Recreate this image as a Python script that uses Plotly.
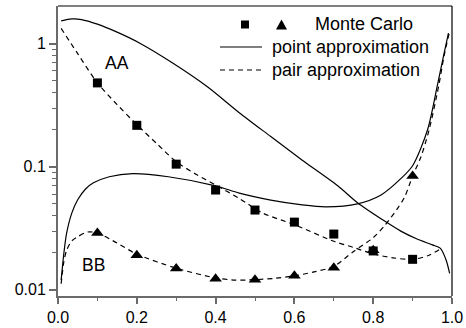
import plotly.graph_objects as go

# Monte Carlo points
mc_x = [0.1, 0.2, 0.3, 0.4, 0.5, 0.6, 0.7, 0.8, 0.9]
mc_aa = [0.48, 0.217, 0.105, 0.0647, 0.0445, 0.0355, 0.0284, 0.0207, 0.0177]
mc_bb = [0.029, 0.0191, 0.0149, 0.0123, 0.0121, 0.013, 0.0151, 0.021, 0.084]

# point approximation (solid)
pt_aa_x = [0.008, 0.035, 0.06, 0.1, 0.15, 0.21, 0.29, 0.38, 0.46, 0.54, 0.62, 0.71,
           0.76, 0.83, 0.87, 0.91, 0.95, 0.97, 0.985, 0.994]
pt_aa_y = [1.53, 1.59, 1.57, 1.44, 1.24, 1.0, 0.70, 0.445, 0.275, 0.176, 0.113, 0.070,
           0.051, 0.036, 0.030, 0.026, 0.0232, 0.0218, 0.0175, 0.0136]
pt_bb_x = [0.008, 0.015, 0.022, 0.035, 0.05, 0.07, 0.09, 0.13, 0.19, 0.28, 0.4, 0.46,
           0.54, 0.62, 0.68, 0.76, 0.82, 0.87, 0.9, 0.938, 0.963, 0.978, 0.991]
pt_bb_y = [0.012, 0.02, 0.029, 0.042, 0.054, 0.066, 0.074, 0.083, 0.088, 0.083, 0.07,
           0.061, 0.0536, 0.049, 0.0473, 0.050, 0.059, 0.08, 0.102, 0.2, 0.46, 0.78, 1.22]

# pair approximation (dashed)
pr_aa_x = [0.008, 0.05, 0.1, 0.15, 0.2, 0.25, 0.3, 0.35, 0.4, 0.46, 0.52, 0.6, 0.7,
           0.75, 0.8, 0.85, 0.9, 0.94, 0.97]
pr_aa_y = [1.33, 0.83, 0.48, 0.32, 0.22, 0.155, 0.11, 0.087, 0.071, 0.0553, 0.042,
           0.0338, 0.0248, 0.0221, 0.0196, 0.0182, 0.0177, 0.019, 0.0215]
pr_bb_x = [0.008, 0.015, 0.022, 0.035, 0.05, 0.075, 0.1, 0.15, 0.2, 0.3, 0.4, 0.45,
           0.5, 0.55, 0.6, 0.65, 0.7, 0.75, 0.8, 0.83, 0.86, 0.88, 0.9, 0.921, 0.942,
           0.966, 0.98, 0.993]
pr_bb_y = [0.0112, 0.017, 0.021, 0.025, 0.027, 0.0295, 0.029, 0.024, 0.0195, 0.015,
           0.0125, 0.012, 0.0121, 0.0124, 0.013, 0.014, 0.0155, 0.0205, 0.0265, 0.0336,
           0.045, 0.057, 0.084, 0.12, 0.2, 0.45, 0.8, 1.22]

x_ticks = [0.0, 0.2, 0.4, 0.6, 0.8, 1.0]
x_tick_text = ["0.0", "0.2", "0.4", "0.6", "0.8", "1.0"]
y_ticks = [0.01, 0.1, 1]
y_tick_text = ["0.01", "0.1", "1"]
y_minor = [m * d for d in (0.01, 0.1) for m in range(2, 10)]
x_minor = [0.1, 0.3, 0.5, 0.7, 0.9]

FONT = "Liberation Sans"
DASH = "5px,4px"
LEG_SIZE = 18

fig = go.Figure()
line_solid = dict(color="black", width=1.2, shape="spline", smoothing=0.8)
line_dash = dict(color="black", width=1.2, dash=DASH, shape="spline", smoothing=0.8)
for xs, ys in [(pt_aa_x, pt_aa_y), (pt_bb_x, pt_bb_y)]:
    fig.add_trace(go.Scatter(x=xs, y=ys, mode="lines", line=line_solid, showlegend=False))
for xs, ys in [(pr_aa_x, pr_aa_y), (pr_bb_x, pr_bb_y)]:
    fig.add_trace(go.Scatter(x=xs, y=ys, mode="lines", line=line_dash, showlegend=False))
fig.add_trace(go.Scatter(x=mc_x, y=mc_aa, mode="markers", showlegend=False,
                         marker=dict(symbol="square", size=9, color="black")))
fig.add_trace(go.Scatter(x=mc_x, y=mc_bb, mode="markers", showlegend=False,
                         marker=dict(symbol="triangle-up", size=11, color="black")))

W, H = 466, 328
L, R, T, B = 58, 14, 6, 32
PW, PH = W - L - R, H - T - B


def px(x):
    return (x - L) / PW


def py(y):
    return (H - B - y) / PH


shapes = [
    dict(type="line", xref="paper", yref="paper", x0=0, x1=1, y0=1, y1=1,
         line=dict(color="black", width=1.2)),
    dict(type="line", xref="paper", yref="paper", x0=1, x1=1, y0=0, y1=1,
         line=dict(color="black", width=1.2)),
    # legend symbols
    dict(type="rect", xref="paper", yref="paper", x0=px(241), x1=px(249),
         y0=py(28.5), y1=py(20.5), fillcolor="black", line=dict(width=0)),
    dict(type="path", xref="paper", yref="paper",
         path=f"M {px(276)} {py(29.5)} L {px(287)} {py(29.5)} L {px(281.5)} {py(19.5)} Z",
         fillcolor="black", line=dict(width=0)),
    dict(type="line", xref="paper", yref="paper", x0=px(220), x1=px(262),
         y0=py(47), y1=py(47), line=dict(color="black", width=1.2)),
    dict(type="line", xref="paper", yref="paper", x0=px(220), x1=px(262),
         y0=py(70), y1=py(70), line=dict(color="black", width=1.2, dash=DASH)),
]

annotations = [
    dict(text="Monte Carlo", xref="paper", yref="paper", x=px(313), y=py(24.5),
         xanchor="left", yanchor="middle", showarrow=False, font=dict(size=LEG_SIZE)),
    dict(text="point approximation", xref="paper", yref="paper", x=px(270), y=py(47),
         xanchor="left", yanchor="middle", showarrow=False, font=dict(size=LEG_SIZE)),
    dict(text="pair approximation", xref="paper", yref="paper", x=px(270), y=py(70),
         xanchor="left", yanchor="middle", showarrow=False, font=dict(size=LEG_SIZE)),
    dict(text="AA", x=0.149, y=-0.153, xref="x", yref="y", showarrow=False,
         font=dict(size=17.5)),
    dict(text="BB", x=0.09, y=-1.8, xref="x", yref="y", showarrow=False,
         font=dict(size=17.5)),
]

AXC = "#6a6a6a"
fig.update_layout(
    width=W, height=H,
    margin=dict(l=L, r=R, t=T, b=B, autoexpand=False),
    paper_bgcolor="white", plot_bgcolor="white",
    font=dict(family=FONT, color="black", size=16),
    shapes=shapes, annotations=annotations,
    xaxis=dict(range=[0, 1], tickvals=x_ticks, ticktext=x_tick_text, automargin=False,
               ticks="outside", ticklen=6, tickwidth=1.5, tickcolor=AXC,
               showline=True, linecolor=AXC, linewidth=2, showgrid=False, zeroline=False,
               minor=dict(tickvals=x_minor, ticks="outside", ticklen=3, tickcolor=AXC,
                          tickwidth=1.2, showgrid=False)),
    yaxis=dict(type="log", range=[-2.05, 0.306], tickvals=y_ticks, ticktext=y_tick_text,
               automargin=False,
               ticks="outside", ticklen=7, tickwidth=1.5, tickcolor=AXC,
               showline=True, linecolor=AXC, linewidth=2, showgrid=False, zeroline=False,
               minor=dict(tickvals=y_minor, ticks="outside", ticklen=4, tickcolor=AXC,
                          tickwidth=1.2, showgrid=False)),
)

fig.write_html(
    "out.html",
    config={"displayModeBar": False},
    post_script="document.body.style.margin='0';document.body.style.padding='0';",
)
